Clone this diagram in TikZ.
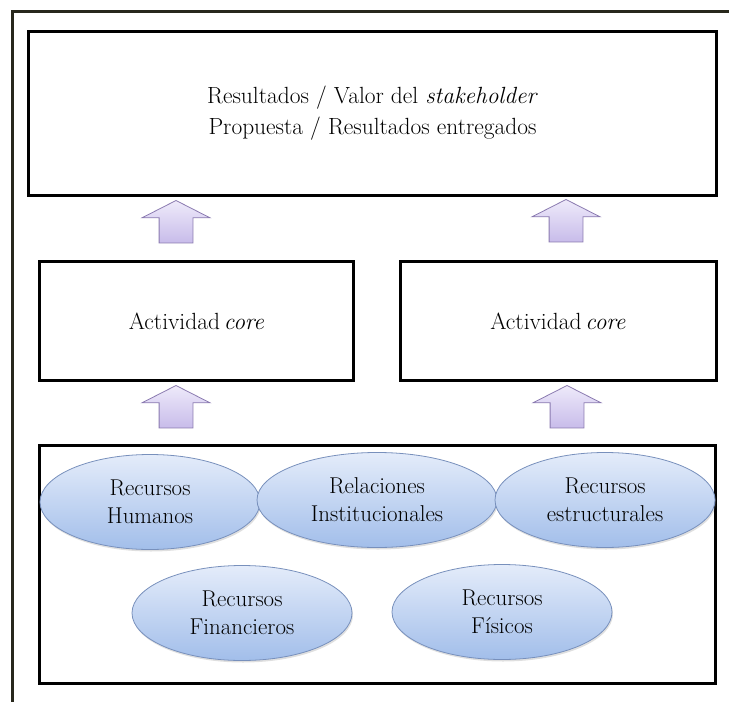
\documentclass[tikz,border=0pt]{standalone}
\usetikzlibrary{shapes.geometric,shapes.arrows,shadows}
\definecolor{frameline}{RGB}{40,40,28}
\definecolor{elltop}{RGB}{228,236,250}
\definecolor{ellbot}{RGB}{162,190,234}
\definecolor{elldraw}{RGB}{120,144,188}
\definecolor{arrtop}{RGB}{238,234,250}
\definecolor{arrbot}{RGB}{200,188,234}
\definecolor{arrdraw}{RGB}{138,122,176}

\begin{document}
\begin{tikzpicture}[
  x=1bp, y=-1bp,
  font=\fontsize{23.5}{31}\selectfont,
  resblock/.style={rectangle, draw, line width=3bp, align=center},
  recellipse/.style={ellipse, draw=elldraw, line width=0.8bp, top color=elltop, bottom color=ellbot, align=center, inner sep=0pt, minimum width=220bp, minimum height=95bp, font=\fontsize{23}{28}\selectfont, drop shadow={opacity=0.25, shadow xshift=1bp, shadow yshift=-2bp}},
  uparrow/.style={single arrow, shape border rotate=90, draw=arrdraw, line width=0.8bp, top color=arrtop, bottom color=arrbot, inner sep=16.5bp, minimum width=67bp, minimum height=34bp, single arrow head extend=17bp, single arrow tip angle=126},
]
\useasboundingbox (0,0) rectangle (729,702);

% outer frame
\draw[frameline, line width=3bp] (12,702) -- (12,11.5) -- (729,11.5);

\node[resblock, minimum width=687bp, minimum height=163bp] (result) at (372.5,113.5) {Resultados / Valor del \textit{stakeholder}\\Propuesta / Resultados entregados};
\node[resblock, minimum width=313bp, minimum height=119bp] (act-l) at (196.5,321) {Actividad\,\textit{core}};
\node[resblock, minimum width=316bp, minimum height=119bp] (act-r) at (558,321) {Actividad\,\textit{core}};
\node[resblock, minimum width=675bp, minimum height=238bp] (rec-box) at (377.5,564) {};

\node[uparrow] (up-l1) at (176,226) {};
\node[uparrow] (up-r1) at (566,225) {};
\node[uparrow] (up-l2) at (176,411) {};
\node[uparrow] (up-r2) at (567,411) {};

\node[recellipse] (rec-hum) at (150,502) {Recursos\\Humanos};
\node[recellipse, minimum width=240bp] (rec-rel) at (377,500) {Relaciones\\Institucionales};
\node[recellipse] (rec-est) at (605,500) {Recursos\\estructurales};
\node[recellipse] (rec-fin) at (242,613) {Recursos\\Financieros};
\node[recellipse] (rec-fis) at (502,612) {Recursos\\Físicos};

\end{tikzpicture}
\end{document}
